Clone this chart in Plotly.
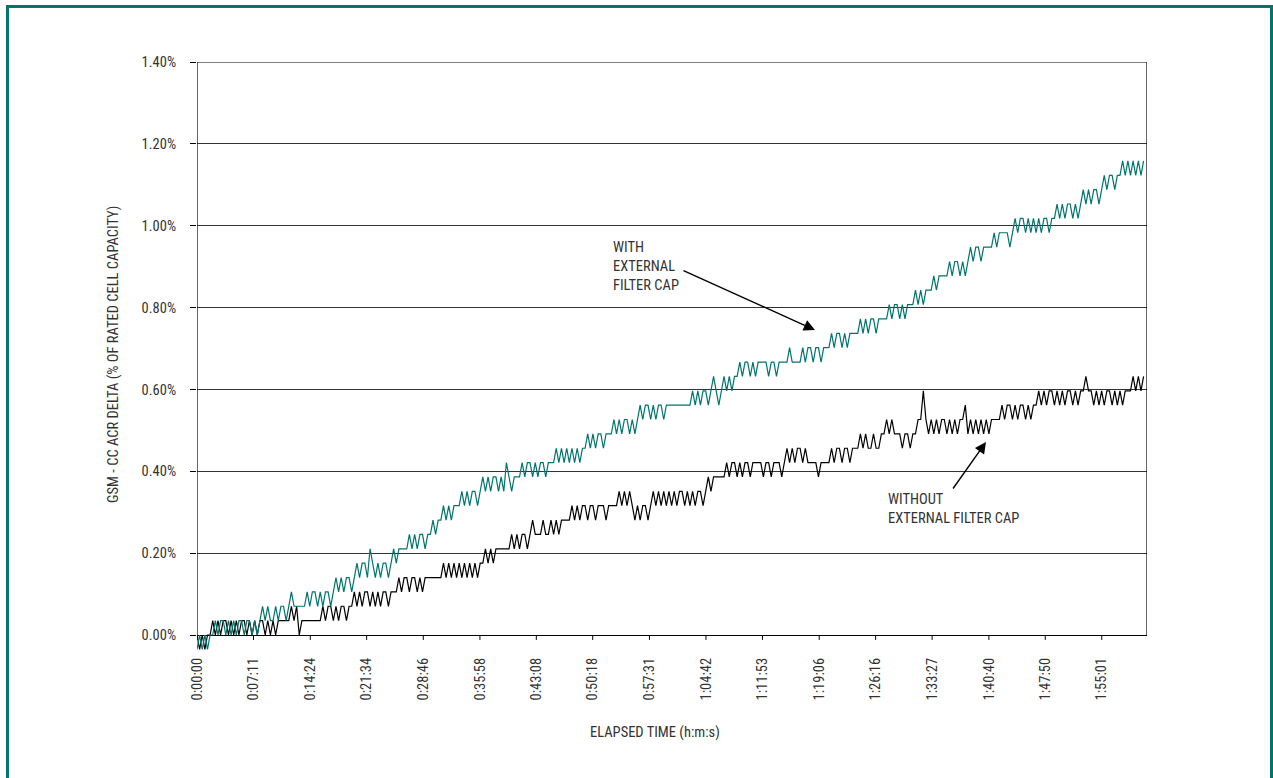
import plotly.graph_objects as go

# ---------------- data ----------------
SAMPLE_SECONDS = 20          # one reading every 20 s
LSB_PCT = 0.0351             # one count of the gauge = 0.0351 % of rated capacity
CODE = "_0123456789abcdefghijklmnopqrstuvwx"   # '_' = -1 count, '0' = 0 ... 'x' = 33 counts

# WITH external filter cap (teal) - counts per sample, 20 samples per line
TEAL_COUNTS = "".join([
    "_0_0_001011010101101",
    "10101212112122123222",
    "22323323233234343443",
    "45455465454554565666",
    "67676776778788989899",
    "9a9a9aa9abababbabacb",
    "abbbcbccbcbccbcccdcd",
    "cdcdcdcddededeedeeef",
    "efeffefefgfggfgfggfg",
    "ggggggggghghghhghihg",
    "hihihiijijjijijjjjij",
    "jijjjjkjjjjkjkkjkkjk",
    "kklkllklkllllmlmlmml",
    "mmmmnmnnmnmnnnononoo",
    "opoppppqpqqpqpqrqrrq",
    "rrrrsrssssrststtstst",
    "ststtsttututuututuvu",
    "vuvvuvwvwwvwwxwxwxwx",
    "wx",
])

# WITHOUT external filter cap (black)
BLACK_COUNTS = "".join([
    "0_0_0010101101010110",
    "10101101010111112120",
    "11111111212212122122",
    "32323323232332333434",
    "43443434444444545454",
    "54545454556565666666",
    "76767767877787787878",
    "88898989989989998999",
    "9a9a9a98989989a9a9a9",
    "a9a9aa9a9a9aa9ababbb",
    "bbcbccbcbccbccccbccb",
    "cccbcdcdcddcdccccbcc",
    "ccdcddcddcdddededded",
    "deefefeeedeedeeffhfe",
    "fefeffefefeffgefefef",
    "efeffffgfggfgfggfgfg",
    "ghghghhghghghhghghhi",
    "hhghghghhghghghhhihi",
    "hi",
])

X_TICK_LABELS = ["0:00:00", "0:07:11", "0:14:24", "0:21:34", "0:28:46", "0:35:58",
                 "0:43:08", "0:50:18", "0:57:31", "1:04:42", "1:11:53", "1:19:06",
                 "1:26:16", "1:33:27", "1:40:40", "1:47:50", "1:55:01"]
Y_TICKS = [0.0, 0.2, 0.4, 0.6, 0.8, 1.0, 1.2, 1.4]
X_END_SECONDS = 7246

# ---------------- build ----------------
def to_pct(s):
    return [(CODE.index(c) - 1) * LSB_PCT for c in s]

def hms(s):
    h, m, sec = (int(v) for v in s.split(":"))
    return h * 3600 + m * 60 + sec

teal_y = to_pct(TEAL_COUNTS)
black_y = to_pct(BLACK_COUNTS)
teal_x = [i * SAMPLE_SECONDS for i in range(len(teal_y))]
black_x = [i * SAMPLE_SECONDS for i in range(len(black_y))]
tickvals = [hms(t) for t in X_TICK_LABELS]

TEAL = "#00756F"
FONT = "Liberation Sans Narrow, Arial Narrow, Roboto Condensed, DejaVu Sans Condensed, sans-serif"
TXT = "#333333"
FS = 14.5

fig = go.Figure()
fig.add_trace(go.Scatter(x=black_x, y=black_y, mode="lines",
                         line=dict(color="#000000", width=1.2), showlegend=False))
fig.add_trace(go.Scatter(x=teal_x, y=teal_y, mode="lines",
                         line=dict(color=TEAL, width=1.2), showlegend=False))

W, H = 1273, 778
L, R, T, B = 197, 126, 62, 127
plot_h = H - T - B
px_per_unit = (635 - 62) / 1.4
ymin = 1.4 - plot_h / px_per_unit

fig.update_layout(
    width=W, height=H,
    margin=dict(l=L, r=R, t=T, b=B),
    paper_bgcolor="white", plot_bgcolor="white",
    font=dict(family=FONT, size=FS, color=TXT),
    xaxis=dict(range=[0, X_END_SECONDS], tickvals=tickvals, ticktext=X_TICK_LABELS,
               tickangle=-90, ticks="", showgrid=False, zeroline=False, showline=False,
               ticklabelstandoff=3,
               tickfont=dict(family=FONT, size=FS, color=TXT)),
    yaxis=dict(range=[ymin, 1.4], tickvals=Y_TICKS,
               ticktext=[f"{v:.2f}%" for v in Y_TICKS],
               ticks="outside", ticklen=6, tickcolor="#000", tickwidth=1,
               ticklabelstandoff=11,
               showgrid=True, gridcolor="#333333", gridwidth=1.2,
               zeroline=True, zerolinecolor="#000000", zerolinewidth=1.2,
               showline=False, tickfont=dict(family=FONT, size=FS, color=TXT)),
)

shapes = []
# plot box (left, right, top)
shapes.append(dict(type="line", xref="x", yref="y", x0=0, x1=0, y0=0, y1=1.4,
                   line=dict(color="#000", width=1.2)))
shapes.append(dict(type="line", xref="x", yref="y", x0=X_END_SECONDS, x1=X_END_SECONDS,
                   y0=0, y1=1.4, line=dict(color="#000", width=1.2)))
shapes.append(dict(type="line", xref="x", yref="y", x0=0, x1=X_END_SECONDS, y0=1.4, y1=1.4,
                   line=dict(color="#000", width=1.2)))
# x tick marks just below the 0 line
for tv in tickvals:
    shapes.append(dict(type="line", xref="x", yref="y", x0=tv, x1=tv, y0=0, y1=-0.012,
                       line=dict(color="#000", width=1)))
# outer teal frame
def px_x(p):
    return (p - L) / (W - L - R)
def px_y(p):
    return (H - B - p) / plot_h
shapes.append(dict(type="rect", xref="paper", yref="paper",
                   x0=px_x(7.5), x1=px_x(1271.5), y0=px_y(800), y1=px_y(6.5),
                   line=dict(color=TEAL, width=3), fillcolor="rgba(0,0,0,0)"))
fig.update_layout(shapes=shapes)

def sx(p):
    return (p - 197) / ((1147 - 197) / X_END_SECONDS)
def sy(p):
    return (635 - p) / px_per_unit

ann = []
ann.append(dict(text="WITH<br>EXTERNAL<br>FILTER CAP", xref="x", yref="y",
                x=sx(611), y=sy(237), xanchor="left", yanchor="top", align="left",
                showarrow=False, font=dict(family=FONT, size=FS, color=TXT)))
ann.append(dict(x=sx(815), y=sy(330), ax=sx(682), ay=sy(270), xref="x", yref="y",
                axref="x", ayref="y", text="", showarrow=True, arrowhead=2,
                arrowsize=1.6, arrowwidth=1.4, arrowcolor="#000"))
ann.append(dict(text="WITHOUT<br>EXTERNAL FILTER CAP", xref="x", yref="y",
                x=sx(886), y=sy(489), xanchor="left", yanchor="top", align="left",
                showarrow=False, font=dict(family=FONT, size=FS, color=TXT)))
ann.append(dict(x=sx(986), y=sy(442), ax=sx(952), ay=sy(490), xref="x", yref="y",
                axref="x", ayref="y", text="", showarrow=True, arrowhead=2,
                arrowsize=1.6, arrowwidth=1.4, arrowcolor="#000"))
ann.append(dict(text="GSM - CC ACR DELTA (% OF RATED CELL CAPACITY)", xref="paper",
                yref="paper", x=px_x(113), y=px_y(355), textangle=-90, showarrow=False,
                xanchor="center", yanchor="middle",
                font=dict(family=FONT, size=FS, color=TXT)))
ann.append(dict(text="ELAPSED TIME (h:m:s)", xref="paper", yref="paper",
                x=px_x(655), y=px_y(732), showarrow=False, xanchor="center",
                yanchor="middle", font=dict(family=FONT, size=FS, color=TXT)))
fig.update_layout(annotations=ann)

fig.write_html("out.html")
